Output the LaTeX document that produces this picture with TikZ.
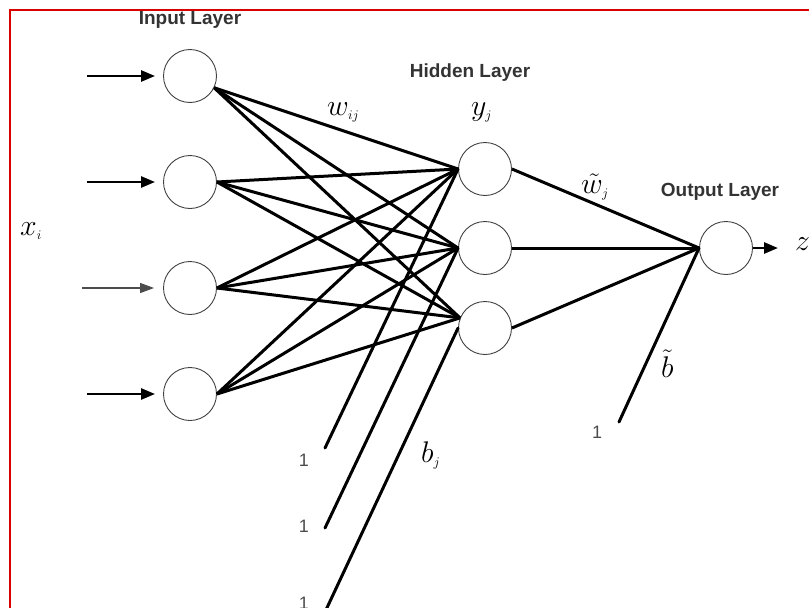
\documentclass[tikz,border=0pt]{standalone}
\usepackage{fontspec}
\setmainfont{Liberation Serif}
\setsansfont{Liberation Sans}
\usetikzlibrary{arrows.meta}

\newcommand\idx[1]{_{\mbox{\fontsize{11}{11}\selectfont$#1$}}}

\tikzset{
    neuron/.style={circle, draw=black!75, line width=0.9pt, minimum size=53pt, inner sep=0pt},
    link/.style={line width=3pt},
    inarrow/.style={line width=2.6pt, shorten >=8pt, -{Triangle[length=14pt, width=11pt]}},
    layertitle/.style={font=\sffamily\bfseries\fontsize{19}{19}\selectfont, text=black!80},
    one/.style={font=\sffamily\fontsize{18}{18}\selectfont, text=black!70},
    sym/.style={font=\fontsize{24.88}{25}\selectfont, scale=1.2, anchor=base west, inner sep=0pt}
}

\begin{document}
\begin{tikzpicture}[x=1pt, y=-1pt]
    \useasboundingbox (0,0) rectangle (809,608);
    \draw[red!85!black, line width=2pt] (10,608) -- (10,10) -- (809,10);
    \foreach \i/\y in {1/76,2/182,3/288,4/394} {
      \node[neuron] (I\i) at (190,\y) {};
      \coordinate (X\i) at (87,\y);
    }
    \coordinate (X3) at (82,288);
    \foreach \j/\y in {1/169,2/248,3/328}
      \node[neuron] (H\j) at (485,\y) {};
    \node[neuron] (O) at (726,248) {};
    \coordinate (Z) at (778,248);
    \foreach \i in {1,2,4}
      \draw[inarrow] (X\i) -- (I\i);
    \draw[black!70, line width=1.1pt, shorten >=9pt, -{Triangle[length=14pt, width=10pt]}] (X3) -- (I3);
    \foreach \i/\a in {1/-26,2/0,3/0,4/0}
      \foreach \j/\b in {1/180,2/180,3/158}
        \draw[link] (I\i.\a) -- (H\j.\b);
    \foreach \j in {1,2,3}
      \draw[link] (H\j.east) -- (O.west);
    \foreach \j/\y in {1/448,2/528,3/612} {
      \coordinate (B\j) at (325,\y);
      \draw[link, line cap=round] (B\j) -- (H\j.west);
    }
    \coordinate (B0) at (619,422);
    \draw[link, line cap=round] (B0) -- (O.west);
    \draw[line width=2.6pt, -{Triangle[length=14pt, width=11pt]}] (O.east) -- (Z);
    \node[one] (U1) at (304,460) {1};
    \node[one] (U2) at (304,526) {1};
    \node[one] (U3) at (304,603) {1};
    \node[one] (U0) at (597,432) {1};
    \node[layertitle] (Tin) at (190,20) {Input Layer};
    \node[layertitle] (Thid) at (470,73) {Hidden Layer};
    \node[layertitle] (Tout) at (720,192) {Output Layer};
    \node[sym] (xi) at (20,235) {$x\idx{i}$};
    \node[sym] (wij) at (327,115) {$w\idx{ij}$};
    \node[sym] (yj) at (471,115) {$y\idx{j}$};
    \node[sym] (wt) at (581,193) {$\tilde{w}\idx{j}$};
    \node[sym] (bj) at (421,462) {$b\idx{j}$};
    \node[sym] (bt) at (661,377) {$\tilde{b}$};
    \node[sym] (z) at (795,250) {$z$};
\end{tikzpicture}
\end{document}
